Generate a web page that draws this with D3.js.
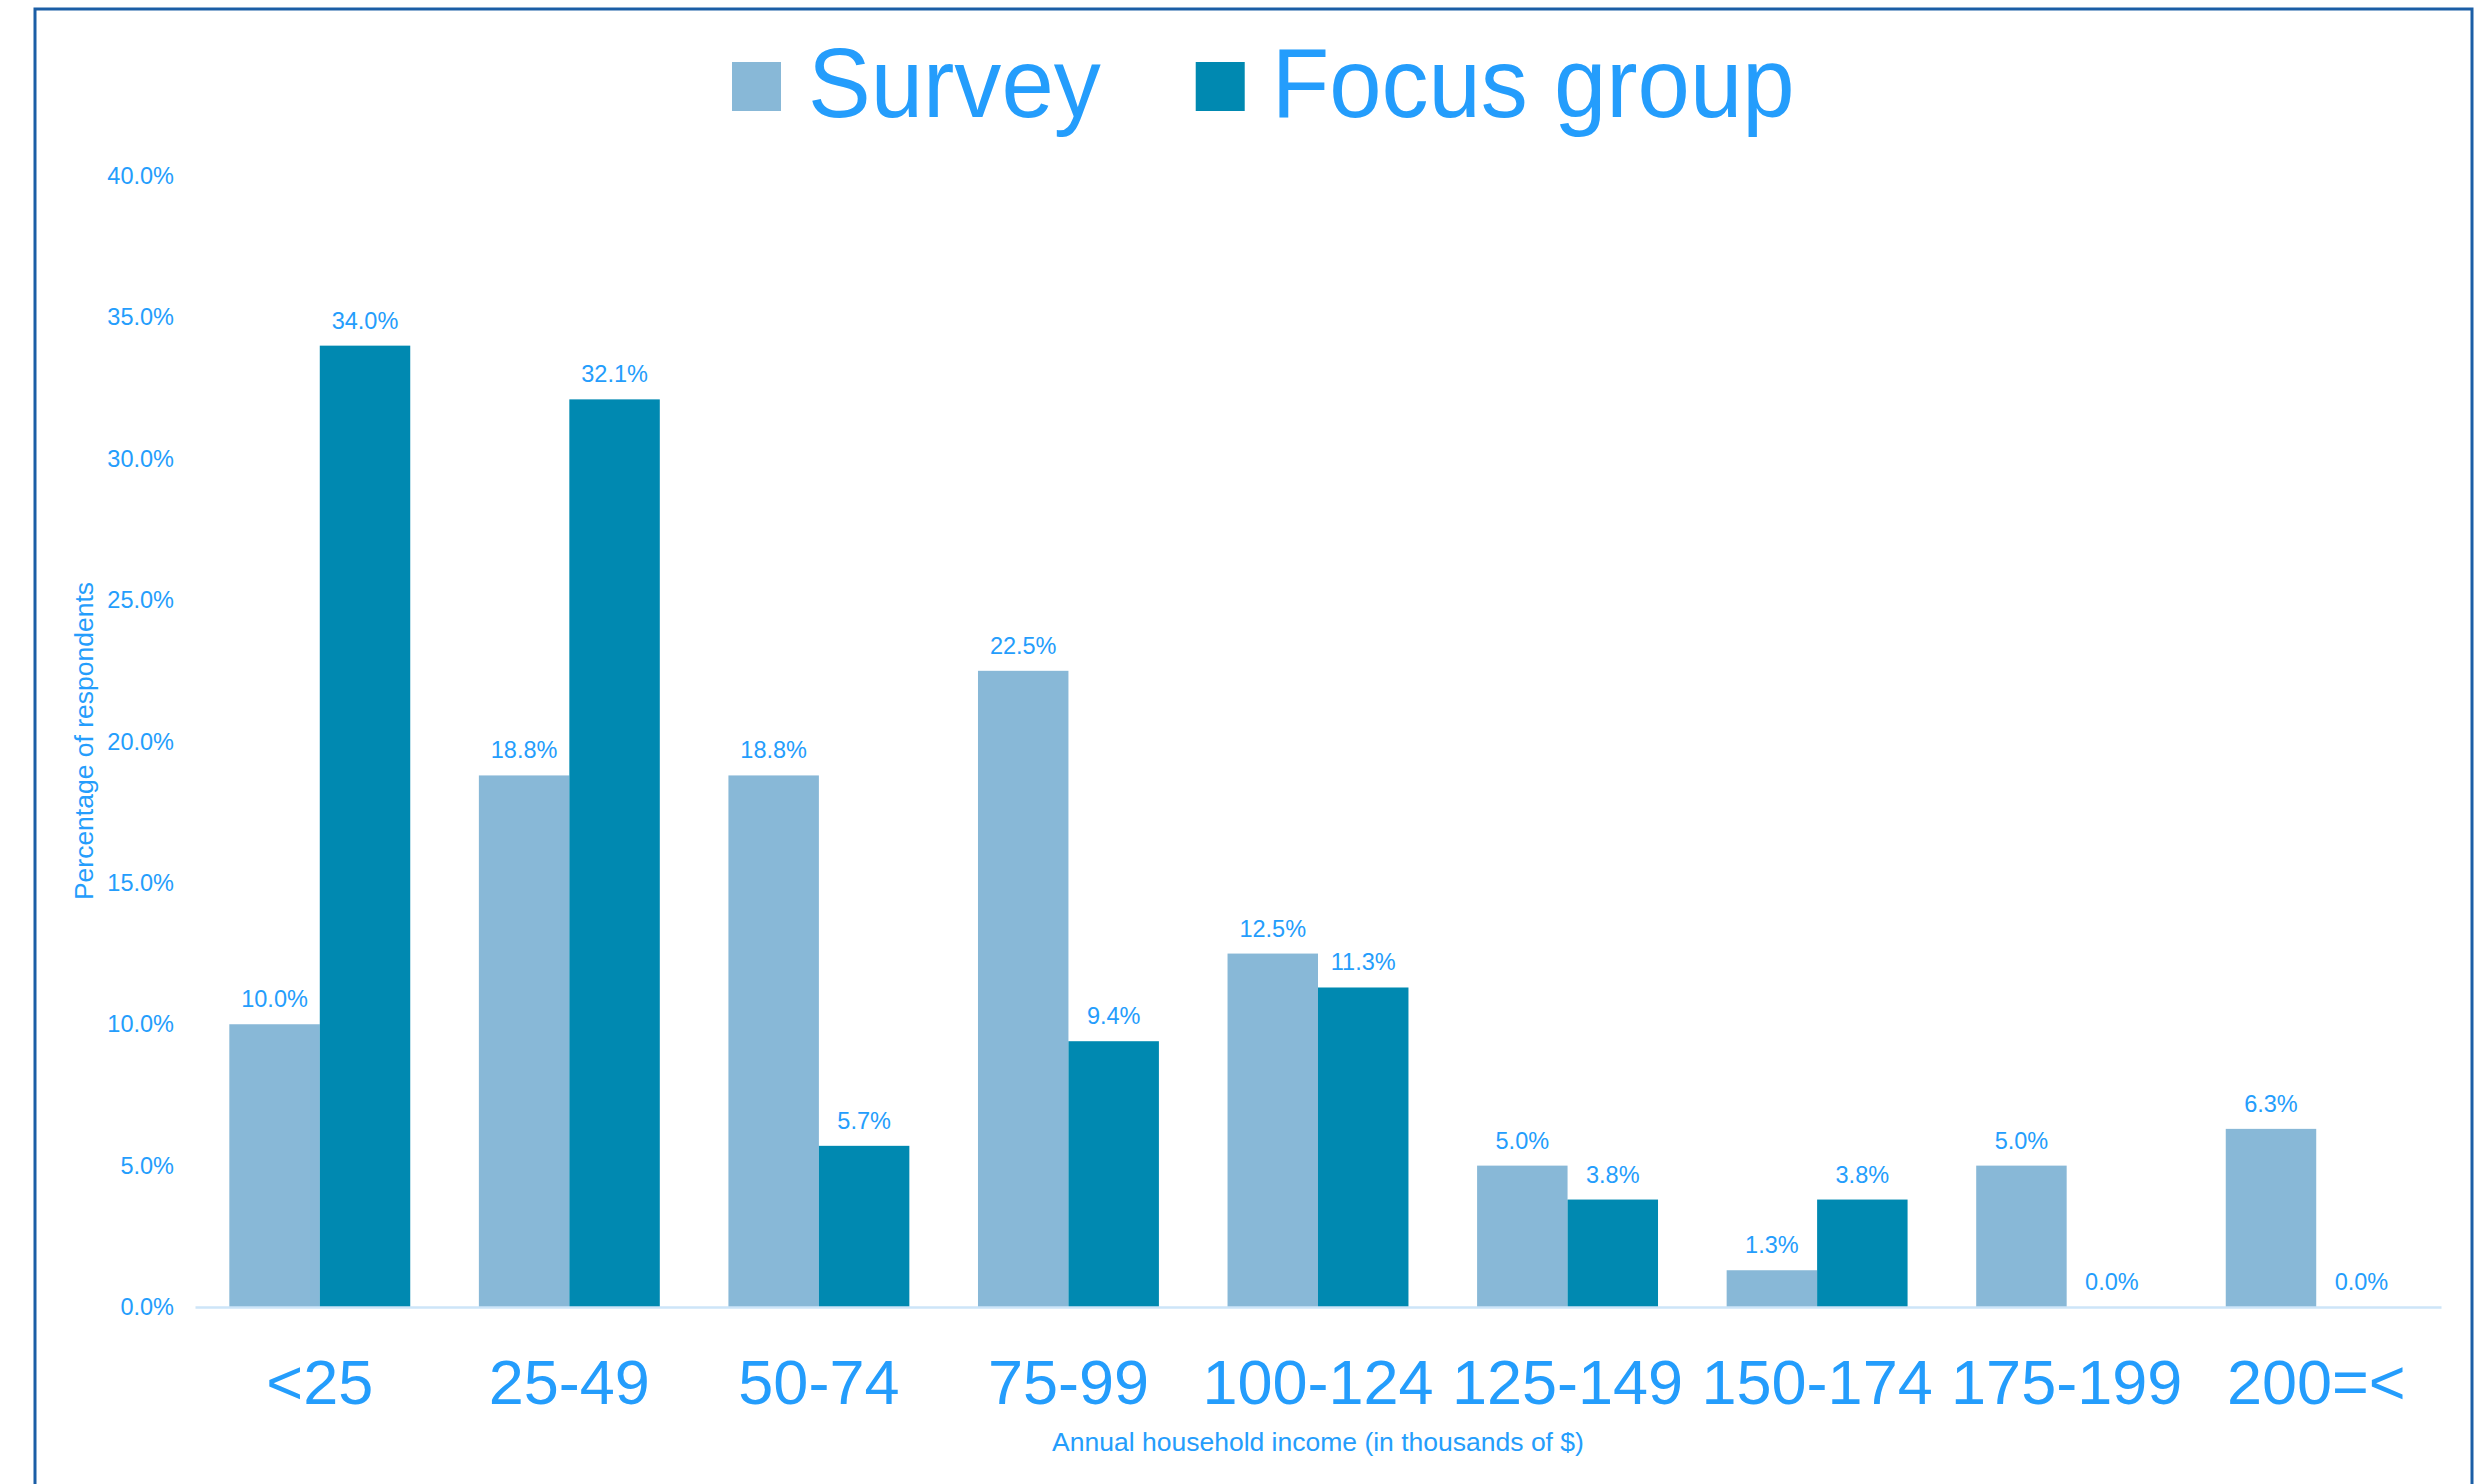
<!DOCTYPE html>
<html>
<head>
<meta charset="utf-8">
<script src="https://cdn.jsdelivr.net/npm/d3@7"></script>
<style>
  html, body { margin: 0; padding: 0; background: #fff; }
  svg { display: block; font-family: "Liberation Sans", Arial, sans-serif; }
</style>
</head>
<body>
<div id="chart"></div>
<script>
// income brackets (thousands of $) and share of respondents, in percent
const categories = ["<25", "25-49", "50-74", "75-99", "100-124", "125-149", "150-174", "175-199", "200=<"];
const seriesNames = ["Survey", "Focus group"];
const surveyValues = [10.0, 18.8, 18.8, 22.5, 12.5, 5.0, 1.3, 5.0, 6.3];
const focusValues = [34.0, 32.1, 5.7, 9.4, 11.3, 3.8, 3.8, 0.0, 0.0];
const yTicks = [0, 5, 10, 15, 20, 25, 30, 35, 40];

const width = 2492, height = 1484;
const margin = {top: 176, right: 51, bottom: 177, left: 195};
const textColor = "#249dfc";
const colors = ["#88b8d7", "#0089b1"];

const rows = categories.map((c, i) => ({cat: c, values: [surveyValues[i], focusValues[i]]}));

const svg = d3.select("#chart").append("svg")
  .attr("width", width)
  .attr("height", height);

// frame around the chart
svg.append("rect")
  .attr("x", 35).attr("y", 9)
  .attr("width", 2472 - 35).attr("height", 1600)
  .attr("fill", "none")
  .attr("stroke", "#1b5ea6")
  .attr("stroke-width", 3);

const x = d3.scaleBand()
  .domain(categories)
  .range([margin.left, width - margin.right])
  .paddingInner(0.275)
  .paddingOuter(0.1375);

const x1 = d3.scaleBand()
  .domain(seriesNames)
  .range([0, x.bandwidth()]);

const y = d3.scaleLinear()
  .domain([0, 40])
  .range([height - margin.bottom, margin.top]);

const fmt = v => d3.format(".1f")(v) + "%";

// y axis: labels only
svg.append("g")
  .attr("transform", `translate(${margin.left},0)`)
  .call(d3.axisLeft(y).tickValues(yTicks).tickSize(0).tickPadding(21).tickFormat(fmt))
  .call(g => g.select(".domain").remove())
  .call(g => g.selectAll("text")
    .attr("fill", textColor)
    .attr("font-size", 23.5)
    .attr("font-family", "Liberation Sans, Arial, sans-serif"));

// bars
const groups = svg.append("g")
  .selectAll("g")
  .data(rows)
  .join("g")
    .attr("transform", d => `translate(${x(d.cat)},0)`);

groups.selectAll("rect")
  .data(d => d.values.map((v, i) => ({name: seriesNames[i], value: v, i})))
  .join("rect")
    .attr("x", d => x1(d.name))
    .attr("y", d => y(d.value))
    .attr("width", x1.bandwidth())
    .attr("height", d => y(0) - y(d.value))
    .attr("fill", d => colors[d.i]);

groups.selectAll("text")
  .data(d => d.values.map((v, i) => ({name: seriesNames[i], value: v})))
  .join("text")
    .attr("x", d => x1(d.name) + x1.bandwidth() / 2)
    .attr("y", d => y(d.value) - 17)
    .attr("text-anchor", "middle")
    .attr("fill", textColor)
    .attr("font-size", 23.5)
    .text(d => fmt(d.value));

// x axis: light baseline and large category labels
svg.append("g")
  .attr("transform", `translate(0,${y(0)})`)
  .call(d3.axisBottom(x).tickSize(0).tickPadding(0))
  .call(g => g.select(".domain").attr("stroke", "#cde5f8").attr("stroke-width", 2.5))
  .call(g => g.selectAll("text")
    .attr("dy", null)
    .attr("y", 97)
    .attr("fill", textColor)
    .attr("font-size", 63)
    .attr("font-family", "Liberation Sans, Arial, sans-serif"));

// axis titles
svg.append("text")
  .attr("x", 1318)
  .attr("y", 1451)
  .attr("text-anchor", "middle")
  .attr("fill", textColor)
  .attr("font-size", 26.5)
  .text("Annual household income (in thousands of $)");

svg.append("text")
  .attr("transform", "translate(93,741) rotate(-90)")
  .attr("text-anchor", "middle")
  .attr("fill", textColor)
  .attr("font-size", 26.5)
  .text("Percentage of respondents");

// legend
const legend = svg.append("g");
let lx = 732;
seriesNames.forEach((name, i) => {
  legend.append("rect")
    .attr("x", lx).attr("y", 62)
    .attr("width", 49).attr("height", 49)
    .attr("fill", colors[i]);
  const t = legend.append("text")
    .attr("x", lx + 49 + 27)
    .attr("y", 117)
    .attr("fill", textColor)
    .attr("font-size", 99)
    .text(name);
  const w = t.node().getComputedTextLength() * 0.95;
  t.attr("textLength", w).attr("lengthAdjust", "spacingAndGlyphs");
  lx += 49 + 27 + w + 95;
});
</script>
</body>
</html>
